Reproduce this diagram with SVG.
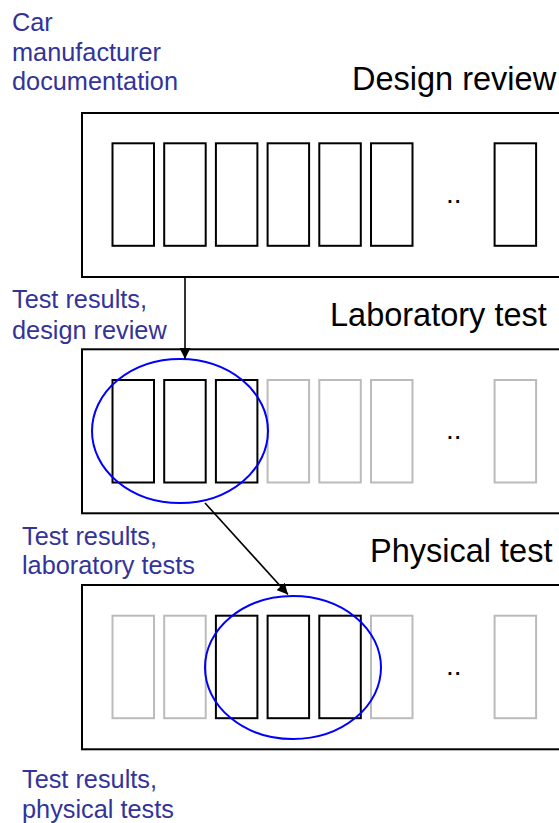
<svg xmlns="http://www.w3.org/2000/svg" width="559" height="823" viewBox="0 0 559 823">
  <style>
    .stage { fill: #ffffff; stroke: #000000; stroke-width: 2; }
    .doc { fill: #ffffff; stroke: #000000; stroke-width: 2; }
    .doc.off { stroke: #bbbbbb; }
    .focus { fill: none; stroke: #0000ff; stroke-width: 2; }
    .title { font-family: "Liberation Sans", Arial, sans-serif; font-size: 32.5px; fill: #000000; }
    .note { font-family: "Liberation Sans", Arial, sans-serif; font-size: 25.3px; fill: #333399; }
    .dots { font-family: "Liberation Sans", Arial, sans-serif; font-size: 28px; fill: #000000; }
    .flow { stroke: #000000; stroke-width: 1.6; fill: none; marker-end: url(#head); }
  </style>
  <defs>
    <marker id="head" viewBox="0 0 10 10" refX="10" refY="5" markerWidth="11" markerHeight="11" markerUnits="userSpaceOnUse" orient="auto">
      <path d="M0,0 L10,5 L0,10 Z" fill="#000000"/>
    </marker>
    <!-- one row of document slots: six in a row, then a gap, then the last one -->
    <g id="slots-all">
      <rect class="doc" x="112.5" y="0" width="41.5" height="102.5"/>
      <rect class="doc" x="164.2" y="0" width="41.5" height="102.5"/>
      <rect class="doc" x="215.9" y="0" width="41.5" height="102.5"/>
      <rect class="doc" x="267.6" y="0" width="41.5" height="102.5"/>
      <rect class="doc" x="319.3" y="0" width="41.5" height="102.5"/>
      <rect class="doc" x="371" y="0" width="41.5" height="102.5"/>
      <rect class="doc" x="494.6" y="0" width="41.5" height="102.5"/>
    </g>
  </defs>

  <!-- source label -->
  <g id="label-source">
    <text class="note" x="12" y="31">Car</text>
    <text class="note" x="12" y="61">manufacturer</text>
    <text class="note" x="12" y="90">documentation</text>
  </g>

  <!-- stage 1: design review -->
  <g id="stage-design-review">
    <text class="title" x="352" y="90">Design review</text>
    <rect class="stage" x="82" y="113" width="520" height="164"/>
    <use href="#slots-all" y="143.3"/>
    <text class="dots" x="446" y="203">..</text>
  </g>

  <g id="label-design-results">
    <text class="note" x="12" y="308">Test results,</text>
    <text class="note" x="12" y="339">design review</text>
  </g>

  <!-- stage 2: laboratory test -->
  <g id="stage-laboratory-test">
    <text class="title" x="330" y="326">Laboratory test</text>
    <rect class="stage" x="82" y="349.3" width="520" height="164"/>
    <rect class="doc" x="112.5" y="380" width="41.5" height="102.5"/>
    <rect class="doc" x="164.2" y="380" width="41.5" height="102.5"/>
    <rect class="doc" x="215.9" y="380" width="41.5" height="102.5"/>
    <rect class="doc off" x="267.6" y="380" width="41.5" height="102.5"/>
    <rect class="doc off" x="319.3" y="380" width="41.5" height="102.5"/>
    <rect class="doc off" x="371" y="380" width="41.5" height="102.5"/>
    <rect class="doc off" x="494.6" y="380" width="41.5" height="102.5"/>
    <text class="dots" x="446" y="439">..</text>
    <ellipse class="focus" cx="180" cy="431" rx="88" ry="72"/>
  </g>

  <g id="label-laboratory-results">
    <text class="note" x="22" y="545">Test results,</text>
    <text class="note" x="22" y="574">laboratory tests</text>
  </g>

  <!-- stage 3: physical test -->
  <g id="stage-physical-test">
    <text class="title" x="370" y="562">Physical test</text>
    <rect class="stage" x="82" y="585" width="520" height="164.3"/>
    <rect class="doc off" x="112.5" y="615.7" width="41.5" height="102.5"/>
    <rect class="doc off" x="164.2" y="615.7" width="41.5" height="102.5"/>
    <rect class="doc" x="215.9" y="615.7" width="41.5" height="102.5"/>
    <rect class="doc" x="267.6" y="615.7" width="41.5" height="102.5"/>
    <rect class="doc" x="319.3" y="615.7" width="41.5" height="102.5"/>
    <rect class="doc off" x="371" y="615.7" width="41.5" height="102.5"/>
    <rect class="doc off" x="494.6" y="615.7" width="41.5" height="102.5"/>
    <text class="dots" x="446" y="675">..</text>
    <ellipse class="focus" cx="293" cy="667.5" rx="88" ry="71.5"/>
  </g>

  <g id="label-physical-results">
    <text class="note" x="22" y="788">Test results,</text>
    <text class="note" x="22" y="818">physical tests</text>
  </g>

  <!-- hand-over arrows between stages -->
  <g id="connectors">
    <line class="flow" x1="185" y1="277" x2="185" y2="359"/>
    <line class="flow" x1="205" y1="503" x2="288" y2="594.5"/>
  </g>
</svg>
